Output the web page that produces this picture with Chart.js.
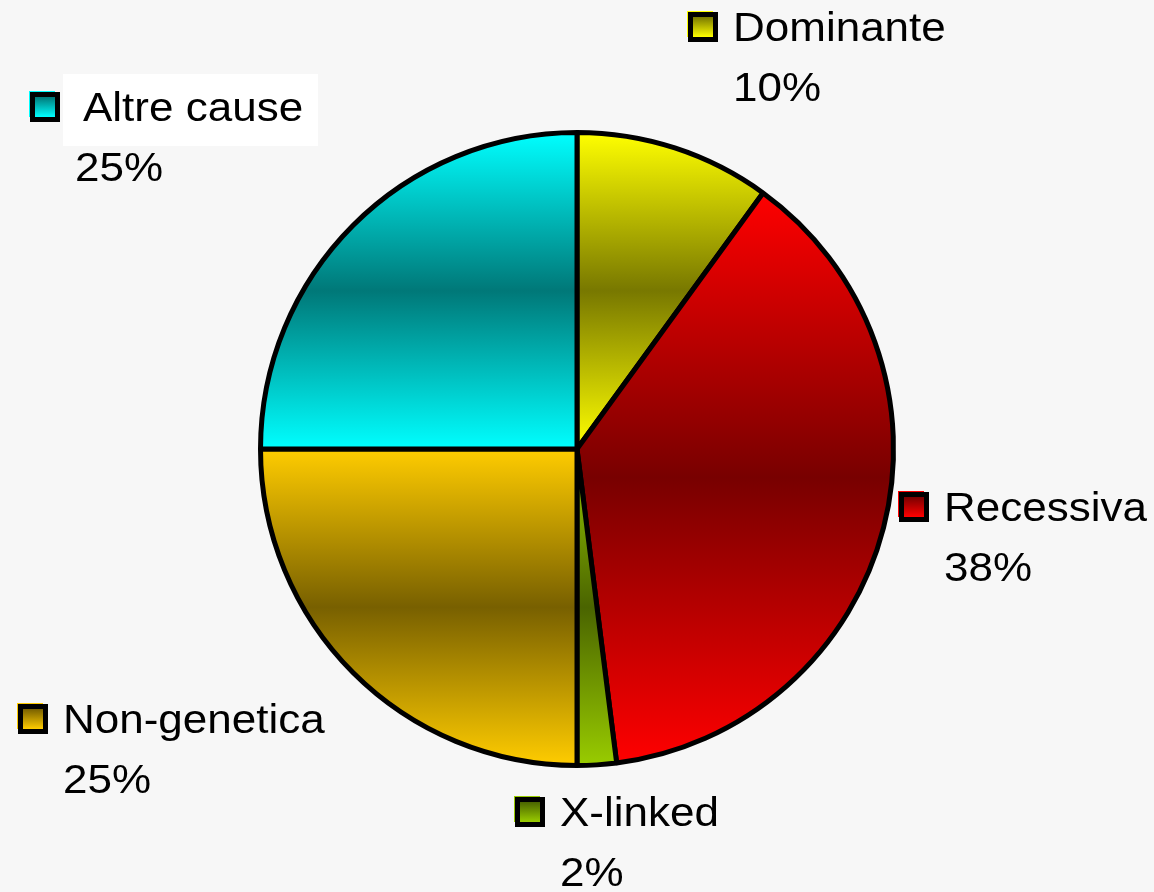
<!DOCTYPE html>
<html>
<head>
<meta charset="utf-8">
<script src="https://cdn.jsdelivr.net/npm/chart.js@4.4.1/dist/chart.umd.min.js"></script>
<style>
  body { margin: 0; background: #f7f7f7; }
  #wrap { width: 1154px; height: 892px; position: relative; }
</style>
</head>
<body>
<div id="wrap"><canvas id="myChart"></canvas></div>
<script>
const categories = ['Dominante', 'Recessiva', 'X-linked', 'Non-genetica', 'Altre cause']
const percents = [10, 38, 2, 25, 25]
const lightColors = ['#ffff00', '#ff0000', '#99cc00', '#ffcc00', '#00ffff']
const darkColors = ['#787800', '#780000', '#4a6400', '#786000', '#007878']

// where each label box sits, relative to pie centre (px)
const labelPos = [
  { dx: 111, dy: -437 },
  { dx: 322, dy: 43 },
  { dx: -62, dy: 348 },
  { dx: -559, dy: 255 },
  { dx: -547, dy: -357, white: true }
]

function sliceGradient(ctx, el, i) {
  const { x, y, startAngle, endAngle, outerRadius } = el
  const ys = [y, y + outerRadius * Math.sin(startAngle), y + outerRadius * Math.sin(endAngle)]
  const norm = a => ((a % (2 * Math.PI)) + 2 * Math.PI) % (2 * Math.PI)
  const has = a => {
    let s = norm(startAngle), e = s + (endAngle - startAngle), t = norm(a)
    if (t < s) t += 2 * Math.PI
    return t <= e
  }
  if (has(-Math.PI / 2)) ys.push(y - outerRadius)
  if (has(Math.PI / 2)) ys.push(y + outerRadius)
  const top = Math.min(...ys), bot = Math.max(...ys)
  const g = ctx.createLinearGradient(0, top, 0, bot)
  g.addColorStop(0, lightColors[i])
  g.addColorStop(0.5, darkColors[i])
  g.addColorStop(1, lightColors[i])
  return g
}

const gradientPlugin = {
  id: 'gradients',
  beforeDatasetsDraw(chart) {
    const meta = chart.getDatasetMeta(0)
    meta.data.forEach((el, i) => {
      el.options = Object.assign({}, el.options, { backgroundColor: sliceGradient(chart.ctx, el, i) })
    })
  }
}

const labelPlugin = {
  id: 'labels',
  afterDraw(chart) {
    const ctx = chart.ctx
    const meta = chart.getDatasetMeta(0)
    const cx = meta.data[0].x, cy = meta.data[0].y
    ctx.save()
    labelPos.forEach((p, i) => {
      const sx = cx + p.dx, sy = cy + p.dy
      if (p.white) {
        ctx.fillStyle = '#ffffff'
        ctx.fillRect(sx + 33, sy - 18, 255, 72)
      }
      // legend square
      ctx.fillStyle = lightColors[i]
      ctx.fillRect(sx - 1, sy - 1, 26, 26)
      ctx.fillStyle = '#000'
      ctx.fillRect(sx, sy, 30, 30)
      const g = ctx.createLinearGradient(0, sy + 5, 0, sy + 25)
      g.addColorStop(0, darkColors[i])
      g.addColorStop(1, lightColors[i])
      ctx.fillStyle = g
      ctx.fillRect(sx + 5, sy + 5, 20, 20)

      ctx.fillStyle = '#000'
      ctx.font = '40px "Liberation Sans", Arial, sans-serif'
      ctx.textBaseline = 'alphabetic'
      const drawText = (txt, x, y) => {
        ctx.save()
        ctx.translate(x, y)
        ctx.scale(1.1, 1)
        ctx.fillText(txt, 0, 0)
        ctx.restore()
      }
      drawText(categories[i], sx + (p.white ? 53 : 45), sy + 29)
      drawText(percents[i] + '%', sx + 45, sy + 89)
    })
    ctx.restore()
  }
}

new Chart(document.getElementById('myChart'), {
  type: 'pie',
  data: {
    labels: categories,
    datasets: [{
      data: percents,
      backgroundColor: lightColors,
      borderColor: '#000000',
      borderWidth: 5
    }]
  },
  options: {
    responsive: true,
    maintainAspectRatio: false,
    animation: false,
    layout: { padding: { top: 130, bottom: 124, left: 0, right: 0 } },
    plugins: {
      legend: { display: false },
      tooltip: { enabled: false }
    }
  },
  plugins: [gradientPlugin, labelPlugin]
})
</script>
</body>
</html>
